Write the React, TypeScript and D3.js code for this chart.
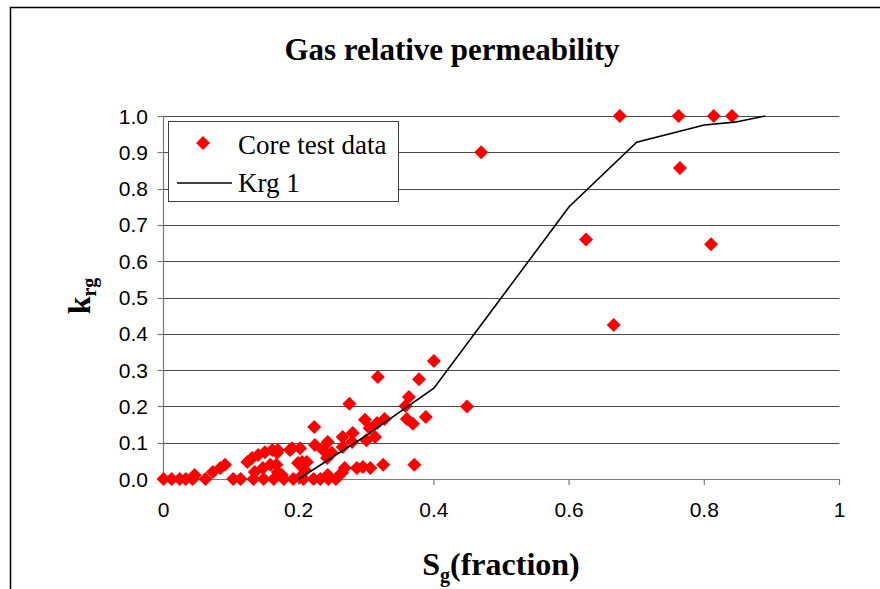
import React from "react";
import * as d3 from "d3";

// Core test data (Sg fraction, krg)
const coreSg = [
  0.675, 0.762, 0.814, 0.841, 0.470, 0.764, 0.625, 0.810, 0.666, 0.449,
  0.400, 0.378, 0.317, 0.275, 0.363, 0.358, 0.388, 0.360, 0.369, 0.371,
  0.223,
  0.298, 0.316, 0.327, 0.305, 0.313, 0.300, 0.280, 0.265, 0.279, 0.265,
  0.243, 0.236, 0.224, 0.249, 0.202, 0.187, 0.190, 0.168,
  0.325, 0.306, 0.295, 0.286, 0.268, 0.264, 0.212, 0.199, 0.209, 0.205, 0.242,
  0.046, 0.073, 0.084, 0.091, 0.124, 0.131, 0.140, 0.150, 0.161, 0.169,
  0.135, 0.147, 0.158, 0.175, 0.167, 0.243, 0.169,
  0.0, 0.012, 0.024, 0.033, 0.043, 0.062, 0.103, 0.114, 0.133, 0.148,
  0.163, 0.178, 0.192, 0.207, 0.222, 0.232, 0.244, 0.255, 0.202,
];
const coreKrg = [
  1.0, 1.0, 1.0, 1.0, 0.900, 0.857, 0.660, 0.647, 0.424, 0.200,
  0.325, 0.275, 0.281, 0.207, 0.226, 0.201, 0.171, 0.165, 0.152, 0.039,
  0.143,
  0.163, 0.154, 0.165, 0.140, 0.116, 0.107, 0.127, 0.116, 0.102, 0.088,
  0.102, 0.080, 0.094, 0.072, 0.085, 0.080, 0.085, 0.072,
  0.039, 0.030, 0.033, 0.030, 0.030, 0.017, 0.047, 0.044, 0.025, 0.047, 0.058,
  0.011, 0.019, 0.030, 0.039, 0.047, 0.058, 0.066, 0.074, 0.080, 0.080,
  0.019, 0.030, 0.039, 0.011, 0.039, 0.011, 0.019,
  0.0, 0.0, 0.0, 0.0, 0.0, 0.0, 0.0, 0.0, 0.0, 0.0,
  0.0, 0.0, 0.0, 0.0, 0.0, 0.0, 0.0, 0.0, 0.005,
];

// Krg 1 curve
const krgSg = [0.2, 0.3, 0.4, 0.5, 0.6, 0.7, 0.8, 0.845, 0.89];
const krgVal = [0.0, 0.12, 0.25, 0.5, 0.75, 0.928, 0.975, 0.983, 1.0];

const xTicks = [0, 0.2, 0.4, 0.6, 0.8, 1];
const xTickLabels = ["0", "0.2", "0.4", "0.6", "0.8", "1"];
const yTicks = [0, 0.1, 0.2, 0.3, 0.4, 0.5, 0.6, 0.7, 0.8, 0.9, 1.0];
const yTickLabels = ["0.0", "0.1", "0.2", "0.3", "0.4", "0.5", "0.6", "0.7", "0.8", "0.9", "1.0"];

const W = 880;
const H = 589;
const PL = 163.5;
const PR = 839.5;
const PT = 116;
const PB = 479;

const serif = "'Liberation Serif', 'Times New Roman', serif";
const sans = "'Liberation Sans', Arial, sans-serif";

const diamond = (s: number) => `M0,${-s}L${s},0L0,${s}L${-s},0Z`;

export default function App() {
  const x = d3.scaleLinear().domain([0, 1]).range([PL, PR]);
  const y = d3.scaleLinear().domain([0, 1]).range([PB, PT]);
  const pts = coreSg.map((s, i) => [s, coreKrg[i]] as [number, number]);
  const curve = krgSg.map((s, i) => [s, krgVal[i]] as [number, number]);
  const line = d3
    .line<[number, number]>()
    .x((d) => x(d[0]))
    .y((d) => y(d[1]));
  const axisColor = "#7a7a7a";
  const gridColor = "#4a4a4a";

  return (
    <svg
      width={W}
      height={H}
      style={{ position: "absolute", left: 0, top: 0, background: "#fff" }}
    >
      <rect x={0} y={0} width={W} height={H} fill="#fff" />
      <rect x={10.5} y={7.5} width={W + 20} height={H + 20} fill="none" stroke="#000" strokeWidth={1.5} />

      {/* title */}
      <text x={452} y={60} textAnchor="middle" fontFamily={serif} fontWeight="bold" fontSize={31}>
        Gas relative permeability
      </text>

      {/* gridlines */}
      {yTicks.slice(1).map((t) => (
        <line
          key={"g" + t}
          x1={PL}
          x2={PR}
          y1={Math.round(y(t)) + 0.5}
          y2={Math.round(y(t)) + 0.5}
          stroke={gridColor}
          strokeWidth={1}
        />
      ))}

      {/* y axis */}
      <line x1={PL} x2={PL} y1={PT} y2={PB + 0.5} stroke={axisColor} strokeWidth={1.2} />
      {yTicks.map((t, i) => (
        <g key={"y" + t}>
          <line x1={PL - 6} x2={PL} y1={Math.round(y(t)) + 0.5} y2={Math.round(y(t)) + 0.5} stroke={axisColor} strokeWidth={1.2} />
          <text x={148} y={y(t) + 7.5} textAnchor="end" fontFamily={sans} fontSize={21} fill="#000">
            {yTickLabels[i]}
          </text>
        </g>
      ))}

      {/* x axis */}
      <line x1={PL} x2={PR} y1={PB + 0.5} y2={PB + 0.5} stroke={axisColor} strokeWidth={1.2} />
      {xTicks.map((t, i) => (
        <g key={"x" + t}>
          <line x1={x(t)} x2={x(t)} y1={PB} y2={PB + 6} stroke={axisColor} strokeWidth={1.2} />
          <text x={x(t)} y={517} textAnchor="middle" fontFamily={sans} fontSize={21} fill="#000">
            {xTickLabels[i]}
          </text>
        </g>
      ))}

      {/* data markers */}
      {pts.map((d, i) => (
        <path key={"p" + i} d={diamond(7)} transform={`translate(${x(d[0])},${y(d[1])})`} fill="#ff0000" />
      ))}

      {/* Krg 1 line */}
      <path d={line(curve) || ""} fill="none" stroke="#000" strokeWidth={1.6} />

      {/* axis titles */}
      <text x={501} y={575} textAnchor="middle" fontFamily={serif} fontWeight="bold" fontSize={32}>
        S<tspan fontSize={20} dy={7}>g</tspan>
        <tspan dy={-7}>(fraction)</tspan>
      </text>
      <text
        transform="translate(90,296) rotate(-90)"
        textAnchor="middle"
        fontFamily={serif}
        fontWeight="bold"
        fontSize={32}
      >
        k<tspan fontSize={20} dy={6}>rg</tspan>
      </text>

      {/* legend */}
      <rect x={168.5} y={121.5} width={230} height={80} fill="#fff" stroke="#404040" strokeWidth={1} />
      <path d={diamond(7)} transform="translate(203,143)" fill="#ff0000" />
      <text x={238} y={154} fontFamily={serif} fontSize={27}>
        Core test data
      </text>
      <line x1={177} x2={232} y1={183} y2={183} stroke="#000" strokeWidth={1.6} />
      <text x={238} y={192} fontFamily={serif} fontSize={27}>
        Krg 1
      </text>
    </svg>
  );
}
